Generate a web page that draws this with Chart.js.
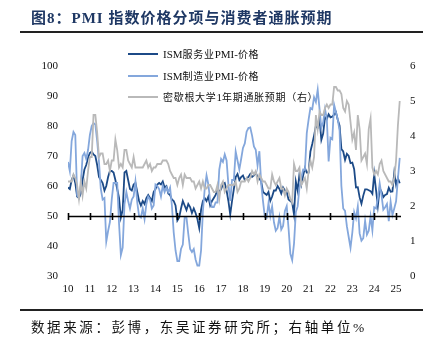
<!DOCTYPE html>
<html>
<head>
<meta charset="utf-8">
<script src="https://cdn.jsdelivr.net/npm/chart.js@4.4.1/dist/chart.umd.min.js"></script>
<style>
  body { margin: 0; width: 436px; height: 342px; background: #fff; position: relative; overflow: hidden; }
  #c { position: absolute; left: 0; top: 0; }
  .title { position: absolute; left: 31px; top: 6px; font: bold 15px "Liberation Serif", "Noto Sans CJK SC", serif; color: #1f3864; letter-spacing: 1px; white-space: nowrap; }
  .rule { position: absolute; left: 20px; width: 403px; height: 2px; background: #222; }
  .source { position: absolute; left: 31px; top: 316px; font: 13.5px "Liberation Serif", "Noto Sans CJK SC", serif; color: #111; letter-spacing: 2.6px; white-space: nowrap; }
  #legend { position: absolute; left: 128px; top: 45px; font: 11px "Liberation Serif", "Noto Sans CJK SC", serif; color: #111; }
  .item { position: relative; height: 21.5px; white-space: nowrap; }
  .item span.sw { position: absolute; left: 0; top: 8px; width: 30px; height: 2px; }
  .item span.tx { position: absolute; left: 35px; top: 1px; }
  .cj { font-size: 10px; letter-spacing: 0.7px; }
</style>
</head>
<body>
<canvas id="c" width="436" height="342"></canvas>
<div class="title">图8：PMI 指数价格分项与消费者通胀预期</div>
<div class="rule" style="top:31px"></div>
<div id="legend"></div>
<div class="rule" style="top:309px"></div>
<div class="source">数据来源：彭博，东吴证券研究所；右轴单位%</div>
<script>
// 月度数据：2010年1月 - 2025年3月
var years = ['10','11','12','13','14','15','16','17','18','19','20','21','22','23','24','25'];

var svcPrice = [
  59.5, 59, 62, 63.5, 61, 56.5, 56, 57.5, 62, 65.5, 67, 69.5,
  71, 71.5, 70.5, 70, 67, 63, 62, 61, 58.5, 60, 63, 65,
  65, 64.5, 62, 59, 56, 49.5, 52, 64.5, 65, 62, 59, 58.5,
  60.5, 61, 58, 55, 53.5, 55, 54, 56, 57, 56, 55, 58,
  59, 60.5, 61, 60.5, 61.5, 59.5, 60, 57.5, 57, 55.5, 55, 53.5,
  48.5, 49.5, 52.5, 55, 53.5, 52, 54, 53, 51, 52.5, 51, 49,
  46, 52, 55, 56, 55, 56.5, 53.5, 55, 56, 57, 59, 58,
  59, 60.5, 61, 58.5, 55, 50.5, 55, 59, 63, 64, 62, 63,
  63.5, 62, 62.5, 63, 64, 63, 63.5, 64.5, 63, 62.5, 61.5, 58,
  57.5, 57, 58, 55, 56.5, 58.5, 58.5, 60, 59, 57.5, 59.5, 58.5,
  58, 55.5, 55, 54.5, 50.5, 61.5, 58.5, 64, 60.5, 63.5, 66, 64.5,
  64.5, 71.5, 74, 76.8, 80, 79.5, 82.3, 75.4, 77.5, 82.9, 82.3, 83.9,
  82.9, 83.1, 83.8, 84.6, 82.1, 80.1, 72.3, 71.5, 68.7, 70.7, 70, 67.6,
  67.8, 65.6, 59.5, 59.6, 56.2, 54.1, 56.8, 58.9, 58.9, 58.6, 58.3, 57.4,
  64, 58.6, 53.4, 59.2, 58.1, 56.3, 57, 57.3, 59.4, 58.1, 58.2, 64.4,
  60.4, 62.6, 60.9
];

var mfgPrice = [
  68, 65, 75, 78, 77, 57, 56, 60, 70, 71, 69, 72,
  77, 80, 81, 80.5, 75, 68, 59, 55.5, 56, 41.5, 45, 48,
  55.5, 61, 61, 61, 47.5, 37, 39.5, 54, 58, 55, 52.5, 55.5,
  56.5, 61.5, 54.5, 50, 49.5, 52.5, 49, 54, 56.5, 55.5, 52.5, 53.5,
  60.5, 60, 59, 56.5, 60, 58, 59.5, 58, 59.5, 53.5, 44.5, 38.5,
  35, 35, 39, 40.5, 49.5, 49.5, 44, 39, 38, 39, 35.5, 33.5,
  33.5, 38.5, 51.5, 59, 63.5, 60.5, 55, 53, 53, 54.5, 54.5, 65.5,
  69, 68, 70.5, 68.5, 60.5, 55, 62, 62, 71.5, 68.5, 65.5, 69,
  72.7, 74.2, 78.1, 79.3, 79.5, 76.8, 73.2, 72.1, 66.9, 71.6, 60.7, 54.9,
  49.6, 49.4, 54.3, 50, 53.2, 47.9, 45.1, 46, 49.7, 45.5, 46.7, 51.7,
  53.3, 45.9, 37.4, 35.3, 40.8, 51.3, 53.2, 59.5, 62.8, 65.5, 65.4, 77.6,
  82.1, 86, 85.6, 89.6, 88, 92.1, 85.7, 79.4, 81.2, 85.7, 82.4, 68.2,
  76.1, 75.6, 87.1, 84.6, 82.2, 78.5, 60, 52.5, 51.7, 46.6, 43, 39.4,
  44.5, 51.3, 49.2, 53.2, 44.2, 41.8, 42.6, 48.4, 43.8, 45.1, 49.9, 45.2,
  52.9, 52.5, 55.8, 60.9, 57, 52.1, 52.9, 54, 48.3, 54.8, 50.3, 52.5,
  54.9, 62.4, 69.4
];

var umich1y = [
  2.7, 2.7, 2.7, 2.9, 2.8, 2.6, 2.2, 2.7, 2.3, 2.7, 2.5, 3.0,
  3.4, 3.4, 4.6, 4.6, 4.1, 3.4, 3.5, 3.5, 3.2, 3.2, 3.3, 3.0,
  3.3, 3.3, 3.9, 3.6, 3.1, 3.2, 3.1, 3.6, 3.6, 3.3, 3.2, 3.1,
  3.4, 3.1, 3.1, 3.1, 3.1, 3.1, 3.2, 3.3, 3.1, 3.2, 3.0, 3.1,
  3.1, 3.2, 3.2, 3.2, 3.3, 3.3, 3.3, 3.2, 3.0, 2.9, 2.8, 2.8,
  2.6, 2.8, 2.9, 2.6, 2.9, 2.8, 2.8, 2.8, 2.7, 2.7, 2.5, 2.6,
  2.7, 2.5, 2.7, 2.5, 2.5, 2.6, 2.6, 2.5, 2.4, 2.4, 2.6, 2.2,
  2.6, 2.7, 2.4, 2.5, 2.6, 2.6, 2.6, 2.6, 2.7, 2.4, 2.5, 2.7,
  2.7, 2.7, 2.8, 2.7, 2.8, 3.0, 2.9, 3.0, 2.7, 2.9, 2.8, 2.7,
  2.7, 2.6, 2.5, 2.5, 2.9, 2.7, 2.6, 2.7, 2.8, 2.5, 2.5, 2.3,
  2.5, 2.4, 2.2, 2.1, 3.2, 3.0, 3.0, 3.1, 2.6, 2.7, 2.8, 2.5,
  3.0, 3.3, 3.1, 3.4, 4.6, 4.2, 4.7, 4.6, 4.6, 4.8, 4.9, 4.8,
  4.9, 4.9, 5.4, 5.4, 5.3, 5.3, 5.2, 4.8, 4.7, 5.0, 4.9, 4.4,
  3.9, 4.1, 3.6, 4.6, 4.2, 3.3, 3.4, 3.5, 3.2, 4.2, 4.5, 3.1,
  2.9, 3.0, 2.9, 3.2, 3.3, 3.0, 2.9, 2.8, 2.7, 2.7, 2.6, 2.8,
  3.3, 4.3, 5.0
];

var leftTicks = [30, 100, 10];
var rightTicks = [0, 6, 1];

function pts(arr) {
  return arr.map(function(v, i) { return {x: i, y: v}; });
}

var serif = '"Liberation Serif", "Times New Roman", serif';

var axisLine = {
  id: 'axisLine',
  afterDatasetsDraw: function(chart) {
    var ctx = chart.ctx, x = chart.scales.x, y = chart.scales.y;
    var py = Math.round(y.getPixelForValue(50)) + 0.5;
    ctx.save();
    ctx.strokeStyle = '#000';
    ctx.lineWidth = 1.6;
    ctx.beginPath();
    ctx.moveTo(x.left, py);
    ctx.lineTo(x.right, py);
    years.forEach(function(lab, i) {
      var px = Math.round(x.getPixelForValue(i * 12)) + 0.5;
      ctx.moveTo(px, py - 3.5);
      ctx.lineTo(px, py + 3.5);
    });
    ctx.stroke();
    ctx.restore();
  }
};

var chart = new Chart(document.getElementById('c'), {
  type: 'line',
  data: {
    datasets: [{
      label: 'ISM服务业PMI-价格',
      data: pts(svcPrice),
      borderColor: '#1c4a87',
      borderWidth: 1.8,
      yAxisID: 'y',
      order: 2
    }, {
      label: 'ISM制造业PMI-价格',
      data: pts(mfgPrice),
      borderColor: '#84a7dc',
      borderWidth: 1.8,
      yAxisID: 'y',
      order: 1
    }, {
      label: '密歇根大学1年期通胀预期（右）',
      data: pts(umich1y),
      borderColor: '#b9b9b9',
      borderWidth: 1.8,
      yAxisID: 'y1',
      order: 0
    }]
  },
  options: {
    responsive: false,
    devicePixelRatio: 1,
    animation: false,
    elements: { point: { radius: 0 }, line: { tension: 0 } },
    layout: { padding: { top: 66, left: 0, right: 0, bottom: 0 } },
    plugins: { legend: { display: false }, tooltip: { enabled: false } },
    scales: {
      x: {
        type: 'linear',
        min: 0,
        max: 182.7,
        grid: { display: false, drawTicks: false },
        border: { display: false },
        afterFit: function(s) { s.height = 66; },
        ticks: {
          stepSize: 12,
          includeBounds: false,
          autoSkip: false,
          maxRotation: 0,
          padding: 7,
          color: '#111',
          font: { family: serif, size: 11 },
          callback: function(v) { return years[v / 12] || ''; }
        }
      },
      y: {
        position: 'left',
        min: leftTicks[0],
        max: leftTicks[1],
        grid: { display: false, drawTicks: false },
        border: { display: false },
        afterFit: function(s) { s.width = 68; },
        ticks: { stepSize: leftTicks[2], padding: 10, color: '#111', font: { family: serif, size: 11 } }
      },
      y1: {
        position: 'right',
        min: rightTicks[0],
        max: rightTicks[1],
        grid: { display: false, drawTicks: false },
        border: { display: false },
        afterFit: function(s) { s.width = 35; },
        ticks: { stepSize: rightTicks[2], padding: 9, color: '#111', font: { family: serif, size: 11 } }
      }
    }
  },
  plugins: [axisLine]
});

// 图例（中文部分单独设字号/字距）
var lg = document.getElementById('legend');
chart.data.datasets.forEach(function(ds) {
  var row = document.createElement('div');
  row.className = 'item';
  var txt = ds.label.replace(/([\u3000-\u9fff\uff00-\uffef]+)/g, '<span class="cj">$1</span>');
  row.innerHTML = '<span class="sw" style="background:' + ds.borderColor + '"></span><span class="tx">' + txt + '</span>';
  lg.appendChild(row);
});
</script>
</body>
</html>
